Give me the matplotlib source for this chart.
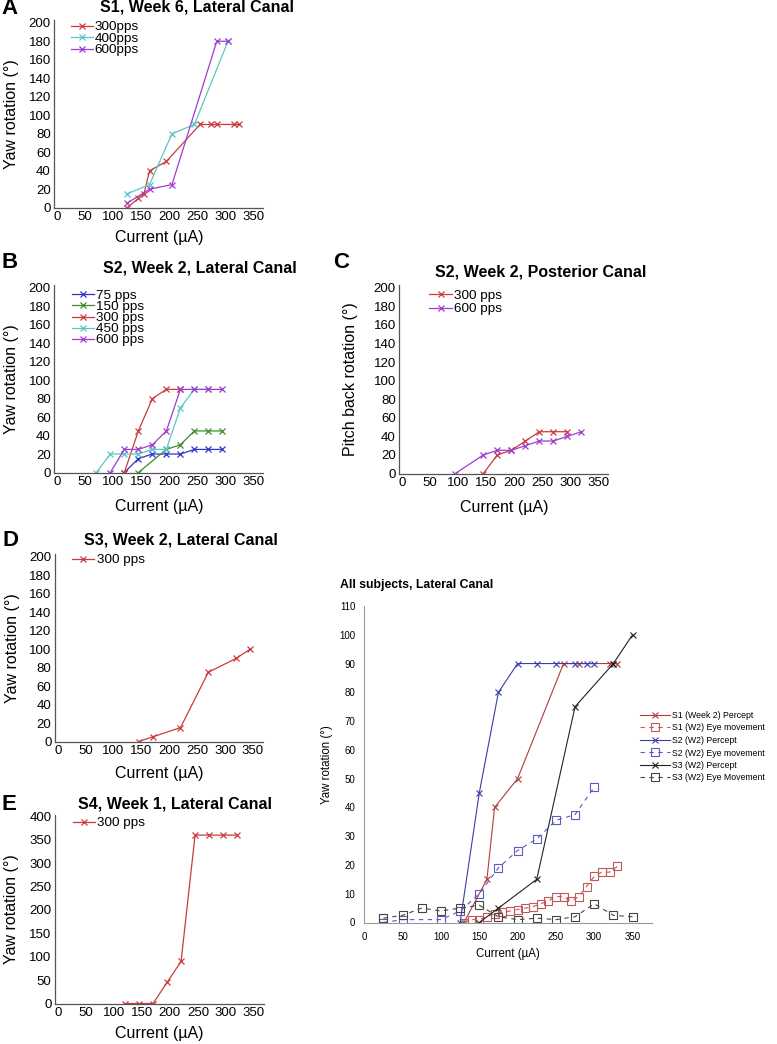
import matplotlib
matplotlib.use("Agg")
import matplotlib.pyplot as plt

plt.rcParams['font.family'] = ['Liberation Sans', 'DejaVu Sans']

# ---- data ----
# A: S1, week 6, lateral canal
a_300_x = [125, 145, 155, 165, 195, 255, 275, 285, 315, 325]
a_300_y = [0, 10, 15, 40, 50, 90, 90, 90, 90, 90]
a_400_x = [125, 165, 205, 245, 305]
a_400_y = [15, 25, 80, 90, 180]
a_600_x = [125, 165, 205, 285, 305]
a_600_y = [5, 20, 25, 180, 180]

# B: S2, week 2, lateral canal
b_75_x = [120, 145, 170, 195, 220, 245, 270, 295]
b_75_y = [0, 15, 20, 20, 20, 25, 25, 25]
b_150_x = [145, 195, 220, 245, 270, 295]
b_150_y = [0, 25, 30, 45, 45, 45]
b_300_x = [120, 145, 170, 195, 220]
b_300_y = [0, 45, 80, 90, 90]
b_450_x = [70, 95, 120, 145, 170, 195, 220, 245, 270]
b_450_y = [0, 20, 20, 20, 25, 25, 70, 90, 90]
b_600_x = [95, 120, 145, 170, 195, 220, 245, 270, 295]
b_600_y = [0, 25, 25, 30, 45, 90, 90, 90, 90]

# C: S2, week 2, posterior canal
c_300_x = [145, 170, 195, 220, 245, 270, 295]
c_300_y = [0, 20, 25, 35, 45, 45, 45]
c_600_x = [95, 145, 170, 195, 220, 245, 270, 295, 320]
c_600_y = [0, 20, 25, 25, 30, 35, 35, 40, 45]

# D: S3, week 2
d_300_x = [145, 170, 220, 270, 320, 345]
d_300_y = [0, 5, 15, 75, 90, 100]

# E: S4, week 1
e_300_x = [120, 145, 170, 195, 220, 245, 270, 295, 320]
e_300_y = [0, 0, 0, 45, 90, 360, 360, 360, 360]

# All subjects
s1p_x = [130, 160, 170, 200, 260, 280, 320, 325, 330]
s1p_y = [0, 15, 40, 50, 90, 90, 90, 90, 90]
s1e_x = [130, 140, 150, 160, 170, 180, 190, 200, 210, 220, 230, 240, 250, 260, 270, 280, 290, 300, 310, 320, 330]
s1e_y = [0, 1, 1, 2, 3, 3.5, 4, 4.5, 5, 5.5, 6.5, 7.5, 9, 9, 7.5, 9, 12.5, 16, 17.5, 17.5, 19.5]
s2p_x = [125, 150, 175, 200, 225, 250, 275, 290, 300]
s2p_y = [0, 45, 80, 90, 90, 90, 90, 90, 90]
s2e_x = [25, 50, 100, 125, 150, 175, 200, 225, 250, 275, 300]
s2e_y = [0, 1, 1, 4, 10, 19, 25, 29, 35.5, 37.5, 47]
s3p_x = [150, 175, 225, 275, 325, 350]
s3p_y = [0, 5, 15, 75, 90, 100]
s3e_x = [25, 50, 75, 100, 125, 150, 175, 200, 225, 250, 275, 300, 325, 350]
s3e_y = [1.5, 2.5, 5, 4, 5, 6, 2, 1, 1.5, 1, 2, 6.5, 2.5, 2]

RED = '#cc3b3b'
CYAN = '#5cc6c6'
PURPLE = '#a03cd0'
BLUE = '#3434c8'
GREEN = '#3c8c2c'

W, H = 777, 1044
fig = plt.figure(figsize=(W / 100, H / 100), dpi=100)


def box(left, top, right, bottom):
    return [left / W, 1 - bottom / H, (right - left) / W, (bottom - top) / H]


def panel(rect, ymax, yticks, ylabel, series, leg_x, leg_top, ylab_x, xlab_y, lspace=-0.07):
    ax = fig.add_axes(rect)
    for x, y, c, lab in series:
        ax.plot(x, y, color=c, marker='x', ms=4, mew=0.9, lw=0.9, label=lab)
    ax.set_xlim(-5, 368)
    ax.set_ylim(0, ymax)
    ax.set_xticks(range(0, 351, 50))
    ax.set_yticks(yticks)
    for s in ['top', 'right']:
        ax.spines[s].set_visible(False)
    for s in ['left', 'bottom']:
        ax.spines[s].set_color('#555555')
        ax.spines[s].set_linewidth(0.9)
    ax.tick_params(length=0, labelsize=9.5, pad=2.5)
    ax.set_xlabel('Current (µA)', fontsize=11.5)
    ax.set_ylabel(ylabel, fontsize=11.5)
    ax.xaxis.set_label_coords(0.5, xlab_y)
    ax.yaxis.set_label_coords(ylab_x, 0.5)
    ax.legend(loc='upper left', bbox_to_anchor=(leg_x, leg_top), frameon=False,
              fontsize=9.7, handlelength=1.65, handletextpad=0.15,
              labelspacing=lspace, borderpad=0, borderaxespad=0)
    return ax


yt200 = range(0, 201, 20)

panel(box(54.3, 20, 263.3, 207.7), 203, yt200, 'Yaw rotation (°)',
      [(a_300_x, a_300_y, RED, '300pps'), (a_400_x, a_400_y, CYAN, '400pps'),
       (a_600_x, a_600_y, PURPLE, '600pps')],
      0.078, 0.995, -0.17, -0.12)

panel(box(54.3, 285, 263.3, 472.5), 203, yt200, 'Yaw rotation (°)',
      [(b_75_x, b_75_y, BLUE, '75 pps'), (b_150_x, b_150_y, GREEN, '150 pps'),
       (b_300_x, b_300_y, RED, '300 pps'), (b_450_x, b_450_y, CYAN, '450 pps'),
       (b_600_x, b_600_y, PURPLE, '600 pps')],
      0.083, 0.975, -0.17, -0.14, lspace=-0.1)

panel(box(399.3, 285, 608.3, 473.5), 203, yt200, 'Pitch back rotation (°)',
      [(c_300_x, c_300_y, RED, '300 pps'), (c_600_x, c_600_y, PURPLE, '600 pps')],
      0.144, 0.975, -0.2, -0.14, lspace=0.06)

panel(box(55, 554, 263, 741.5), 203, yt200, 'Yaw rotation (°)',
      [(d_300_x, d_300_y, RED, '300 pps')],
      0.083, 1.0, -0.17, -0.13)

panel(box(55, 815, 264, 1003.5), 403, range(0, 401, 50), 'Yaw rotation (°)',
      [(e_300_x, e_300_y, RED, '300 pps')],
      0.085, 0.99, -0.17, -0.12)

# titles and panel letters
titles = [(197, 7, 'S1, Week 6, Lateral Canal'), (200, 268, 'S2, Week 2, Lateral Canal'),
          (541, 272, 'S2, Week 2, Posterior Canal'), (181, 540, 'S3, Week 2, Lateral Canal'),
          (175, 804, 'S4, Week 1, Lateral Canal')]
for x, y, t in titles:
    fig.text(x / W, 1 - y / H, t, ha='center', va='center', fontsize=11.5, fontweight='bold')
for x, y, t in [(9, 9, 'A'), (10, 262, 'B'), (341, 262, 'C'), (10, 540, 'D'), (9, 805, 'E')]:
    fig.text(x / W, 1 - y / H, t, ha='center', va='center', fontsize=16, fontweight='bold')

# all subjects panel
ax = fig.add_axes(box(364.3, 606, 651.7, 922.5))
ax.plot(s1p_x, s1p_y, color='#b03c3c', marker='x', ms=5, mew=0.8, lw=0.8, label='S1 (Week 2) Percept')
ax.plot(s1e_x, s1e_y, color='#c05a5a', marker='s', ms=6, mfc='none', mew=0.8, lw=0.8,
        dashes=(4, 4), label='S1 (W2) Eye movement')
ax.plot(s2p_x, s2p_y, color='#3c3ca8', marker='x', ms=5, mew=0.8, lw=0.8, label='S2 (W2) Percept')
ax.plot(s2e_x, s2e_y, color='#5a5ac0', marker='s', ms=6, mfc='none', mew=0.8, lw=0.8,
        dashes=(4, 4), label='S2 (W2) Eye movement')
ax.plot(s3p_x, s3p_y, color='#222222', marker='x', ms=5, mew=0.8, lw=0.8, label='S3 (W2) Percept')
ax.plot(s3e_x, s3e_y, color='#444444', marker='s', ms=6, mfc='none', mew=0.8, lw=0.8,
        dashes=(4, 4), label='S3 (W2) Eye Movement')
ax.set_xlim(0, 375)
ax.set_ylim(0, 110)
ax.set_xticks(range(0, 351, 50))
ax.set_yticks(range(0, 111, 10))
for s in ['top', 'right']:
    ax.spines[s].set_visible(False)
for s in ['left', 'bottom']:
    ax.spines[s].set_color('#999999')
    ax.spines[s].set_linewidth(0.8)
ax.tick_params(length=0, labelsize=7, pad=6.5)
ax.set_xlabel('Current (µA)', fontsize=8.3)
ax.set_ylabel('Yaw rotation (°)', fontsize=8.3)
ax.xaxis.set_label_coords(0.5, -0.08)
ax.yaxis.set_label_coords(-0.11, 0.5)
fig.text(340 / W, 1 - 585 / H, 'All subjects, Lateral Canal', ha='left', va='center',
         fontsize=8.8, fontweight='bold')
ax.legend(loc='upper left', bbox_to_anchor=(640 / W, 1 - 711 / H),
          bbox_transform=fig.transFigure, frameon=False,
          fontsize=6.3, handlelength=3.4, handletextpad=0.3, labelspacing=0.4,
          borderpad=0, borderaxespad=0)

fig.savefig('out.png', dpi=100)
